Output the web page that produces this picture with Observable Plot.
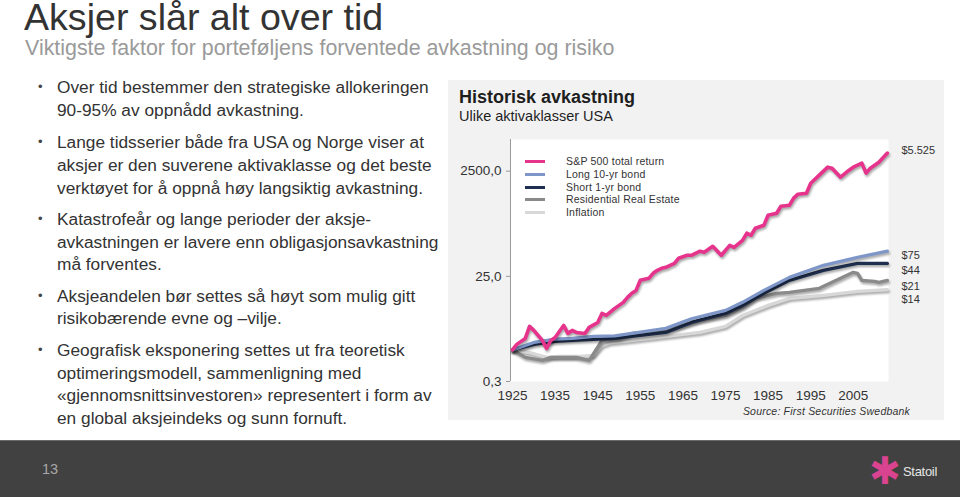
<!DOCTYPE html>
<html>
<head>
<meta charset="utf-8">
<script src="https://cdn.jsdelivr.net/npm/d3@7"></script>
<script src="https://cdn.jsdelivr.net/npm/@observablehq/plot@0.6"></script>
<style>
  html, body { margin: 0; padding: 0; }
  body { width: 960px; height: 497px; position: relative; overflow: hidden; background: #fff;
         font-family: "Liberation Sans", Arial, sans-serif; color: #333; }
  .abs { position: absolute; white-space: nowrap; }
  #title { left: 24px; top: 2px; font-size: 37.6px; line-height: 30px; color: #333; }
  #subtitle { left: 25px; top: 38.6px; font-size: 21.4px; line-height: 18px; color: #9a9a9a; }
  .para { left: 57px; font-size: 17.3px; line-height: 22.7px; color: #333; }
  .para .dot { position: absolute; left: -19px; top: 0; font-size: 13px; color: #444; }
  #panel { left: 448px; top: 80px; width: 496px; height: 340px; background: #f2f2f2; }
  #ptitle { left: 459px; top: 87.5px; font-size: 18px; line-height: 18px; font-weight: bold; color: #1e1e1e; }
  #psub { left: 459px; top: 108.5px; font-size: 14.5px; line-height: 14.5px; color: #1e1e1e; }
  #chart { position: absolute; left: 448px; top: 130px; }
  #chart g[aria-label="line"] path { filter: drop-shadow(1.5px 2px 1.2px rgba(0,0,0,0.35)); }
  #legend { left: 525px; top: 155px; font-size: 10.5px; line-height: 12.75px; color: #333; }
  #legend .row { position: relative; height: 12.75px; }
  #legend .sw { position: absolute; left: 0; top: 5px; width: 20px; height: 3px; }
  #legend .lb { position: absolute; left: 41px; top: 0; letter-spacing: 0.2px; }
  #source { right: 50px; top: 404.5px; font-size: 10.5px; line-height: 12px; font-style: italic; color: #333; letter-spacing: 0.2px; }
  #footer { left: 0; top: 440px; width: 960px; height: 57px; background: #414141; border-top: 1px solid #6a6a6a; }
  #pnum { left: 42px; top: 461.5px; font-size: 14.5px; line-height: 14.5px; color: #a8a8a8; }
  #logo { left: 869px; top: 452px; font-size: 38px; line-height: 38px; color: #d9438f; }
  #logotxt { left: 903px; top: 465px; font-size: 13px; line-height: 13px; color: #e6e6e6; letter-spacing: -0.3px; }
</style>
</head>
<body>
<div id="title" class="abs">Aksjer slår alt over tid</div>
<div id="subtitle" class="abs">Viktigste faktor for porteføljens forventede avkastning og risiko</div>

<div class="abs para" style="top:76.2px"><span class="dot">•</span>Over tid bestemmer den strategiske allokeringen<br>90-95% av oppnådd avkastning.</div>
<div class="abs para" style="top:131.2px"><span class="dot">•</span>Lange tidsserier både fra USA og Norge viser at<br>aksjer er den suverene aktivaklasse og det beste<br>verktøyet for å oppnå høy langsiktig avkastning.</div>
<div class="abs para" style="top:207.9px"><span class="dot">•</span>Katastrofeår og lange perioder der aksje-<br>avkastningen er lavere enn obligasjonsavkastning<br>må forventes.</div>
<div class="abs para" style="top:284.6px"><span class="dot">•</span>Aksjeandelen bør settes så høyt som mulig gitt<br>risikobærende evne og –vilje.</div>
<div class="abs para" style="top:338.9px"><span class="dot">•</span>Geografisk eksponering settes ut fra teoretisk<br>optimeringsmodell, sammenligning med<br>«gjennomsnittsinvestoren» representert i form av<br>en global aksjeindeks og sunn fornuft.</div>

<div id="panel" class="abs"></div>
<div id="ptitle" class="abs">Historisk avkastning</div>
<div id="psub" class="abs">Ulike aktivaklasser USA</div>
<div id="chart"></div>
<div id="legend" class="abs"></div>
<div id="source" class="abs">Source: First Securities Swedbank</div>

<div id="footer" class="abs"></div>
<div id="pnum" class="abs">13</div>
<div id="logo" class="abs">✱</div>
<div id="logotxt" class="abs">Statoil</div>

<script>
// ---- Data (growth of $1 invested) ----
const spYear  = [1925,1926,1928,1929,1930,1932,1933,1934,1935,1937,1938,1939,1940,1942,1943,1945,1946,1947,1949,1951,1952,1953,1954,1955,1957,1958,1959,1960,1961,1963,1964,1966,1967,1969,1970,1972,1974,1976,1977,1979,1980,1981,1982,1984,1985,1987,1988,1990,1991,1992,1994,1995,1997,1999,2000,2002,2004,2005,2007,2008,2009,2011,2013];
const spValue = [1.0,1.27,1.65,2.79,2.34,1.51,1.06,1.51,1.72,2.91,2.05,2.34,2.14,2.05,2.67,3.32,4.93,4.52,6.14,8.0,9.95,11.9,13.5,21.0,22.9,28.5,32.5,35.5,37.1,44.2,55.1,62.8,62.8,75,72,93,63,97,89,121,165,151,205,234,363,396,538,562,766,912,953,1476,2099,2979,2851,1923,2612,2979,3548,2291,2851,3707,5525];

const lbYear  = [1925,1930,1935,1939,1944,1949,1953,1961,1967,1975,1979,1984,1990,1998,2006,2013];
const lbValue = [1.0,1.38,1.6,1.65,1.8,1.85,2.05,2.56,3.9,5.63,8.0,13.5,23.9,40.5,57.5,75];

const sbYear  = [1925,1930,1935,1939,1944,1949,1953,1961,1967,1975,1979,1984,1990,1998,2006,2008,2013];
const sbValue = [1.0,1.27,1.45,1.51,1.58,1.65,1.8,2.14,3.32,4.93,7.0,11.9,21.0,32.5,44.2,44,44];

const reYear  = [1925,1928,1932,1934,1940,1943,1946,1950,1953,1961,1969,1975,1979,1982,1987,1990,1997,2000,2005,2006,2007,2010,2011,2012,2013];
const reValue = [1.0,0.72,0.63,0.72,0.72,0.63,1.51,1.65,2.05,2.34,3.63,4.52,6.43,9.53,11.9,12.4,14.8,19.2,29.8,28.5,21.0,20.1,19.2,20.1,21];

const inYear  = [1925,1929,1933,1936,1941,1944,1946,1948,1953,1961,1969,1975,1979,1985,1990,1998,2006,2013];
const inValue = [1.0,0.89,0.72,0.75,0.75,0.78,1.21,1.38,1.51,1.8,2.14,2.79,4.5,7.0,9.5,10.9,12.9,14];

const seriesNames = ["S&P 500 total return","Long 10-yr bond","Short 1-yr bond","Residential Real Estate","Inflation"];
const endLabels   = ["$5.525","$75","$44","$21","$14"];
const yTicks      = [0.25, 25, 2500];
const yTickLabels = ["0,3","25,0","2500,0"];
const xTicks      = [1925,1935,1945,1955,1965,1975,1985,1995,2005];

// ---- Styles ----
const colors = ["#e6338c","#7f97c8","#1f2f4f","#8a8a8a","#d8d8d8"];
const widths = [3.6, 3.3, 3.3, 3.3, 3.3];
const labelDy = [-3, 4, 7, 6, 10];
const xDomain = [1924.53, 2013.26];
const yDomain = [0.25, 10000];

const years  = [spYear, lbYear, sbYear, reYear, inYear];
const values = [spValue, lbValue, sbValue, reValue, inValue];
const series = years.map((ys, k) => ys.map((y, i) => ({year: y, value: values[k][i]})));
const yTickData = yTicks.map((t, i) => ({value: t, label: yTickLabels[i]}));

const drawOrder = [4, 3, 2, 1, 0];

const marks = [
  Plot.frame({fill: "white", stroke: "none"}),
  Plot.ruleX([xDomain[0]], {stroke: "#9a9a9a", strokeWidth: 1}),
  Plot.tickY(yTickData, {y: "value", frameAnchor: "left", stroke: "#9a9a9a"}),
  Plot.text(yTickData, {y: "value", text: "label", frameAnchor: "left", textAnchor: "end", dx: -9, fontSize: 13.5, fill: "#333"}),
  Plot.axisX({ticks: xTicks, tickFormat: (d) => String(d), tickSize: 0, tickPadding: 9, fontSize: 13.5, label: null}),
  ...drawOrder.map(k => Plot.line(series[k], {x: "year", y: "value", stroke: colors[k], strokeWidth: widths[k], strokeLinejoin: "round", strokeLinecap: "round"})),
  ...series.map((s, k) => Plot.text([s[s.length - 1]], {x: "year", y: "value", text: () => endLabels[k], dx: 14, dy: labelDy[k], textAnchor: "start", fontSize: 11, fill: "#333"}))
];

const chart = Plot.plot({
  width: 496,
  height: 290,
  marginLeft: 62,
  marginRight: 56,
  marginTop: 9,
  marginBottom: 39,
  x: {type: "linear", domain: xDomain},
  y: {type: "log", domain: yDomain, axis: null},
  style: {fontFamily: "'Liberation Sans', Arial, sans-serif", color: "#333", background: "transparent", overflow: "visible"},
  marks
});
document.getElementById("chart").appendChild(chart);

// short tick marks to the left of the y axis line
chart.querySelectorAll('g[aria-label="tick"] line').forEach(l => {
  const x1 = +l.getAttribute("x1");
  l.setAttribute("x1", x1 - 4);
  l.setAttribute("x2", x1);
});

// ---- Legend ----
const legend = document.getElementById("legend");
seriesNames.forEach((name, k) => {
  const row = document.createElement("div");
  row.className = "row";
  const sw = document.createElement("span");
  sw.className = "sw";
  sw.style.background = colors[k];
  const lb = document.createElement("span");
  lb.className = "lb";
  lb.textContent = name;
  row.appendChild(sw);
  row.appendChild(lb);
  legend.appendChild(row);
});
</script>
</body>
</html>
